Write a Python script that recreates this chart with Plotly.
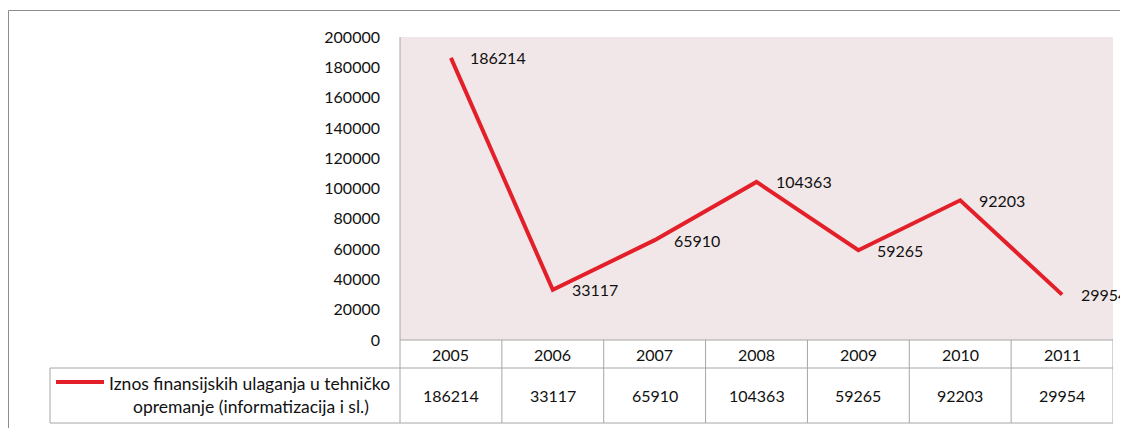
import plotly.graph_objects as go

years = ["2005", "2006", "2007", "2008", "2009", "2010", "2011"]
values = [186214, 33117, 65910, 104363, 59265, 92203, 29954]
series_name_line1 = "Iznos finansijskih ulaganja u tehničko"
series_name_line2 = "opremanje (informatizacija i sl.)"
y_ticks = list(range(0, 200001, 20000))

OFF = 8  # page body margin
W, H = 1128 - OFF, 428 - OFF
FONT = "Lato"
RED = "#E3202A"
GRID = "#A6A6A6"
TXT = "#111111"

def px(x):
    return (x - OFF) / W

def py(y):
    return 1 - (y - OFF) / H

xs = list(range(len(years)))
fig = go.Figure()
fig.add_trace(go.Scatter(x=xs, y=values, mode="lines",
                         line=dict(color=RED, width=4), hoverinfo="skip",
                         showlegend=False))

annotations = []
for i, v in enumerate(values):
    annotations.append(dict(x=i, y=v, xref="x", yref="y", text=str(v),
                            showarrow=False, xanchor="left", yanchor="middle",
                            xshift=17, font=dict(family=FONT, size=16, color=TXT)))

# table geometry (target page pixels)
plot_l, plot_r, plot_t, plot_b = 400, 1113, 37, 340
row1_b, row2_b = 368, 423
leg_l = 50
shapes = []
# outer border
shapes.append(dict(type="rect", xref="paper", yref="paper", x0=px(8.5), x1=px(1150),
                   y0=py(450), y1=py(10.5), line=dict(color="#8C8C8C", width=1)))
# horizontal table lines
shapes.append(dict(type="line", xref="paper", yref="paper", x0=px(plot_l), x1=px(plot_r),
                   y0=py(plot_b), y1=py(plot_b), line=dict(color=GRID, width=1)))
for yy in (row1_b, row2_b):
    shapes.append(dict(type="line", xref="paper", yref="paper", x0=px(leg_l), x1=px(plot_r),
                       y0=py(yy), y1=py(yy), line=dict(color=GRID, width=1)))
# vertical lines
shapes.append(dict(type="line", xref="paper", yref="paper", x0=px(leg_l), x1=px(leg_l),
                   y0=py(row1_b), y1=py(row2_b), line=dict(color=GRID, width=1)))
shapes.append(dict(type="line", xref="paper", yref="paper", x0=px(plot_l), x1=px(plot_l),
                   y0=py(plot_t), y1=py(row2_b), line=dict(color=GRID, width=1)))
for i in range(1, len(years) + 1):
    shapes.append(dict(type="line", xref="x", yref="paper", x0=i - 0.5, x1=i - 0.5,
                       y0=py(plot_b), y1=py(row2_b), line=dict(color=GRID, width=1)))
# legend key
shapes.append(dict(type="line", xref="paper", yref="paper", x0=px(56), x1=px(104),
                   y0=py(382), y1=py(382), line=dict(color=RED, width=4)))

for i, (yr, v) in enumerate(zip(years, values)):
    annotations.append(dict(x=i, y=py((plot_b + row1_b) / 2), xref="x", yref="paper",
                            text=yr, showarrow=False, xanchor="center", yanchor="middle",
                            font=dict(family=FONT, size=16, color=TXT)))
    annotations.append(dict(x=i, y=py((row1_b + row2_b) / 2), xref="x", yref="paper",
                            text=str(v), showarrow=False, xanchor="center", yanchor="middle",
                            font=dict(family=FONT, size=16, color=TXT)))
annotations.append(dict(x=px(107), y=py(383), xref="paper", yref="paper",
                        text=series_name_line1, showarrow=False, xanchor="left", yanchor="middle",
                        font=dict(family=FONT, size=17.5, color=TXT)))
annotations.append(dict(x=px(251), y=py(406), xref="paper", yref="paper",
                        text=series_name_line2, showarrow=False, xanchor="center", yanchor="middle",
                        font=dict(family=FONT, size=17.5, color=TXT)))

fig.update_layout(
    width=W, height=H,
    margin=dict(l=0, r=0, t=0, b=0, pad=0, autoexpand=False),
    paper_bgcolor="white",
    plot_bgcolor="#F2E7E8",
    xaxis=dict(domain=[px(plot_l), px(plot_r)], range=[-0.5, len(years) - 0.5],
               showticklabels=False, showgrid=False, zeroline=False, ticks="",
               automargin=False, fixedrange=True),
    yaxis=dict(domain=[py(plot_b), py(plot_t)], range=[0, 200000], tickvals=y_ticks,
               ticktext=[str(t) for t in y_ticks], showgrid=False, zeroline=False,
               ticks="", ticklabelstandoff=19, automargin=False,
               tickfont=dict(family=FONT, size=16, color=TXT)),
    shapes=shapes,
    annotations=annotations,
)

fig.write_html("out.html")
